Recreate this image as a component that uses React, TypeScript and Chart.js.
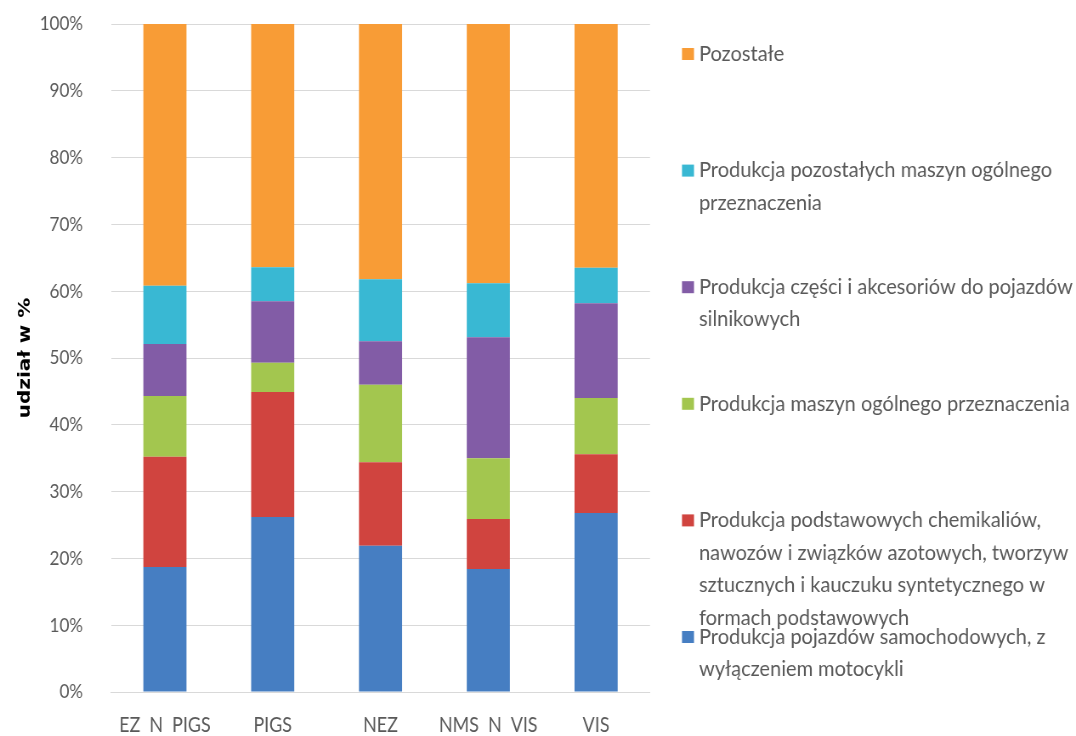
import { useEffect, useRef } from 'react';
import { Chart, registerables } from 'chart.js';

Chart.register(...registerables);

// Categories on the x axis
const categories = ['EZ  N  PIGS', 'PIGS', 'NEZ', 'NMS  N  VIS', 'VIS'];

// Shares in % for each branch (bottom to top of the stack)
const pojazdySamochodowe = [18.7, 26.2, 21.9, 18.4, 26.8];
const chemikalia = [16.5, 18.7, 12.5, 7.5, 8.8];
const maszynyOgolne = [9.1, 4.4, 11.6, 9.1, 8.4];
const czesciPojazdow = [7.8, 9.2, 6.5, 18.1, 14.2];
const pozostaleMaszyny = [8.7, 5.1, 9.3, 8.1, 5.3];
const pozostale = [39.2, 36.4, 38.2, 38.8, 36.5];

// Series names, split into the lines shown in the legend
const pojazdyLines = ['Produkcja pojazdów samochodowych, z', 'wyłączeniem motocykli'];
const chemikaliaLines = [
  'Produkcja podstawowych chemikaliów,',
  'nawozów i związków azotowych, tworzyw',
  'sztucznych i kauczuku syntetycznego w',
  'formach podstawowych',
];
const maszynyLines = ['Produkcja maszyn ogólnego przeznaczenia'];
const czesciLines = ['Produkcja części i akcesoriów do pojazdów', 'silnikowych'];
const pozostaleMaszynyLines = ['Produkcja pozostałych maszyn ogólnego', 'przeznaczenia'];
const pozostaleLines = ['Pozostałe'];

const yTicks = [0, 10, 20, 30, 40, 50, 60, 70, 80, 90, 100];

const FONT = 'Lato, "Open Sans", sans-serif';
const TEXT_GRAY = '#595959';

// The canvas is drawn wider than it is shown, which gives the narrow,
// tall lettering of the labels; F converts on-screen px to canvas px.
const VIEW_W = 1076;
const VIEW_H = 736;
const CANVAS_W = 1266;
const F = CANVAS_W / VIEW_W;

const series = [
  { lines: pojazdyLines, values: pojazdySamochodowe, color: '#467EC2' },
  { lines: chemikaliaLines, values: chemikalia, color: '#D0443F' },
  { lines: maszynyLines, values: maszynyOgolne, color: '#A3C64F' },
  { lines: czesciLines, values: czesciPojazdow, color: '#825CA6' },
  { lines: pozostaleMaszynyLines, values: pozostaleMaszyny, color: '#39B8D3' },
  { lines: pozostaleLines, values: pozostale, color: '#F89C36' },
];

// Legend on the right: entries listed top-down in reverse stack order,
// evenly spaced, with multi-line wrapped labels.
const sideLegend = {
  id: 'sideLegend',
  afterDraw(chart: any) {
    const { ctx, chartArea } = chart;
    const boxX = chartArea.right + 32 * F;
    const textX = chartArea.right + 49 * F;
    const firstY = chartArea.top + 30;
    const step = 116.6;
    const lineH = 32.5;
    const stretch = 1.12;
    ctx.save();
    ctx.font = `21px ${FONT}`;
    ctx.textBaseline = 'middle';
    ctx.textAlign = 'left';
    const list = [...series].reverse();
    list.forEach((s, i) => {
      const y = firstY + i * step;
      ctx.fillStyle = s.color;
      ctx.fillRect(boxX, y - 6, 12 * F, 12);
      ctx.fillStyle = TEXT_GRAY;
      s.lines.forEach((line, j) => {
        ctx.save();
        ctx.translate(textX, y + j * lineH);
        ctx.scale(stretch, 1);
        ctx.fillText(line, 0, 0);
        ctx.restore();
      });
    });
    ctx.restore();
  },
};

export default function App() {
  const canvasRef = useRef<HTMLCanvasElement | null>(null);

  useEffect(() => {
    if (!canvasRef.current) return;
    const chart = new Chart(canvasRef.current, {
      type: 'bar',
      data: {
        labels: categories,
        datasets: series.map((s) => ({
          label: s.lines.join(' '),
          data: s.values,
          backgroundColor: s.color,
          borderWidth: 0,
          barPercentage: 0.4,
          categoryPercentage: 1,
        })),
      },
      options: {
        animation: false,
        responsive: false,
        maintainAspectRatio: false,
        devicePixelRatio: 1,
        layout: { padding: { left: 0, right: (VIEW_W - 650) * F, top: 24, bottom: 0 } },
        plugins: {
          legend: { display: false },
          tooltip: { enabled: false },
        },
        scales: {
          x: {
            stacked: true,
            grid: { display: false },
            border: { display: true, color: '#D9D9D9', width: 1 },
            ticks: {
              color: TEXT_GRAY,
              font: { family: FONT, size: 21 },
              padding: 13,
              maxRotation: 0,
              autoSkip: false,
            },
            afterFit: (scale: any) => {
              scale.height = 44;
              scale.paddingLeft = 0;
              scale.paddingRight = 0;
            },
          },
          y: {
            stacked: true,
            min: 0,
            max: 100,
            afterBuildTicks: (scale: any) => {
              scale.ticks = yTicks.map((v) => ({ value: v }));
            },
            grid: { color: '#D9D9D9', lineWidth: 1, drawTicks: false },
            border: { display: false },
            ticks: {
              color: TEXT_GRAY,
              font: { family: FONT, size: 20 },
              padding: 33,
              callback: (v: any) => `${v}%`,
            },
            title: {
              display: true,
              text: 'udział w %',
              color: '#000000',
              font: { family: '"DejaVu Sans", sans-serif', size: 20, weight: 'bold' },
              padding: { top: 18, bottom: 0 },
            },
            afterFit: (scale: any) => {
              scale.width = 111 * F;
              scale.paddingTop = 0;
              scale.paddingBottom = 0;
            },
          },
        },
      },
      plugins: [sideLegend],
    });
    return () => chart.destroy();
  }, []);

  return (
    <div style={{ position: 'fixed', left: 0, top: 0, width: VIEW_W, height: VIEW_H, background: '#ffffff' }}>
      <canvas
        ref={canvasRef}
        width={CANVAS_W}
        height={VIEW_H}
        style={{ width: VIEW_W, height: VIEW_H, display: 'block' }}
      />
    </div>
  );
}
